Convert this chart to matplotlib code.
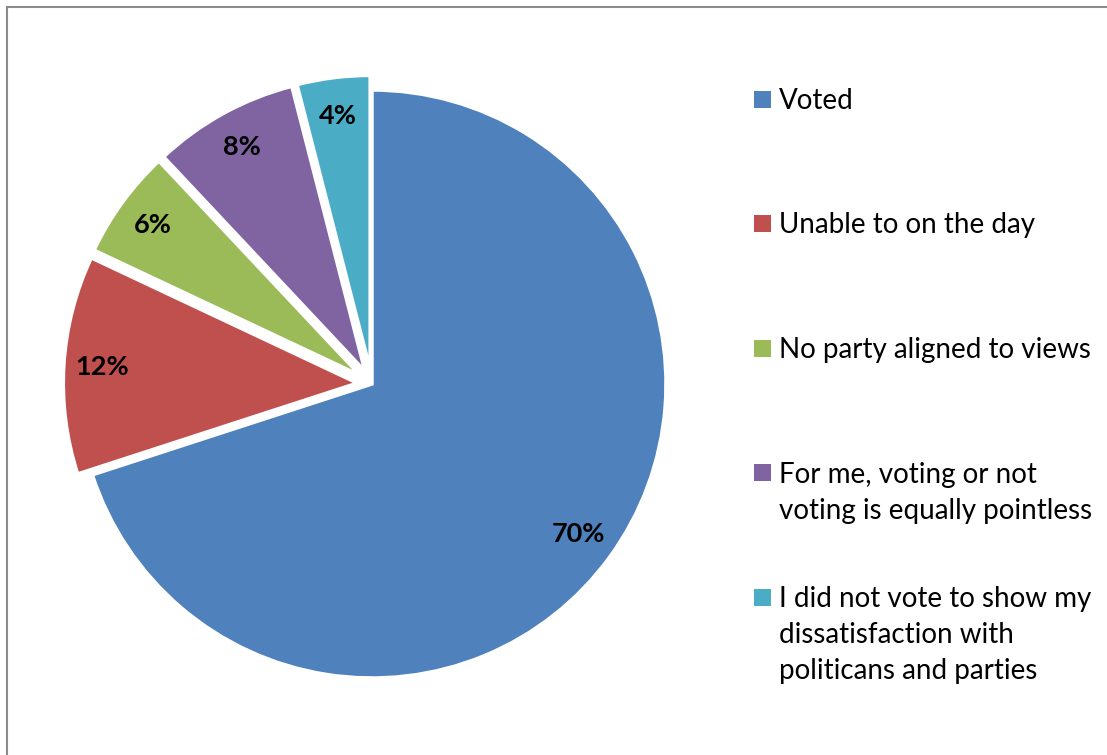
import matplotlib
matplotlib.use("Agg")
import matplotlib.pyplot as plt
from matplotlib.patches import Rectangle
from matplotlib.lines import Line2D

categories = ["Voted", "Unable to on the day", "No party aligned to views",
              "For me, voting or not\nvoting is equally pointless",
              "I did not vote to show my\ndissatisfaction with\npoliticans and parties"]
values = [70, 12, 6, 8, 4]
colors = ["#4F81BD", "#C0504D", "#9BBB59", "#8064A2", "#4BACC6"]
explode = [0, 0.05, 0.05, 0.05, 0.05]

W, H = 1107, 755
fig = plt.figure(figsize=(W / 100, H / 100), dpi=100)
plt.rcParams['font.family'] = ['Lato', 'DejaVu Sans']

cx, cy, r = 372, 384, 294
half = 330
ax = fig.add_axes([(cx - half) / W, (H - cy - half) / H, 2 * half / W, 2 * half / H])
lim = half / r
ax.set_xlim(-lim, lim)
ax.set_ylim(-lim, lim)
ax.set_aspect('equal')
ax.axis('off')

wedges, texts, autotexts = ax.pie(
    values, colors=colors, explode=explode, startangle=90, counterclock=False,
    autopct=lambda p: f"{p:.0f}%", pctdistance=0.87, radius=1,
    wedgeprops=dict(edgecolor='white', linewidth=2.5),
    textprops=dict(fontsize=19.5, fontweight='bold', color='black'))
ax.set_xlim(-lim, lim)
ax.set_ylim(-lim, lim)

# manual legend
y0 = 99
step = 124.5
line_h = 36
for i, (lab, col) in enumerate(zip(categories, colors)):
    yc = y0 + i * step
    fig.add_artist(Rectangle((754 / W, (H - yc - 8.5) / H), 17 / W, 17 / H,
                             facecolor=col, edgecolor='none', transform=fig.transFigure))
    for k, line in enumerate(lab.split("\n")):
        fig.text(779 / W, (H - yc - 10 - k * line_h) / H, line, fontsize=20,
                 color='black', va='baseline', ha='left')

# chart border
fig.add_artist(Line2D([7 / W, 1], [1 - 7 / H, 1 - 7 / H], color='#8c8c8c', lw=1.5,
                      transform=fig.transFigure))
fig.add_artist(Line2D([7 / W, 7 / W], [0, 1 - 7 / H], color='#8c8c8c', lw=1.5,
                      transform=fig.transFigure))

fig.savefig("out.png", dpi=100)
